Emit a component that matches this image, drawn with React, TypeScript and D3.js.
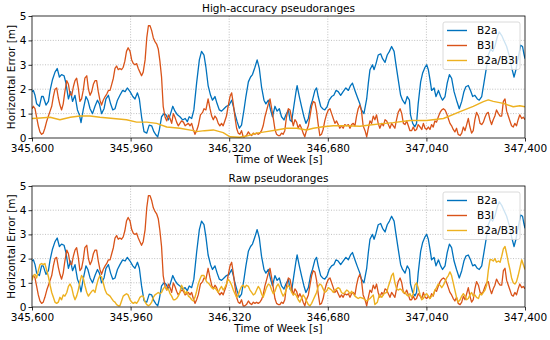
import * as d3 from "d3";

type Pt = [number, number];

/** time of week at the left edge, points below are seconds after it */
const T0 = 345600;
const xTicks = [345600, 345960, 346320, 346680, 347040, 347400];
const yTicks = [0, 1, 2, 3, 4, 5];
const seriesNames = ["B2a", "B3I", "B2a/B3I"];
const colors = ["#0072BD", "#D95319", "#EDB120"];

const b2a: Pt[] = [
  [0, 1.9], [5, 1.95], [11, 1.75], [17, 1.4], [27, 1.3], [35, 1.7], [41, 1.7], [51, 1.35], [60, 1.5], [66, 1.95],
  [75, 2.4], [84, 2.7], [92, 2.85], [100, 2.5], [108, 2.6], [117, 2.55], [124, 2.25], [133, 1.6], [141, 1.9], [148, 1.5],
  [157, 1.75], [166, 1.15], [173, 0.95], [179, 0.63], [187, 1.15], [197, 1.7], [204, 1.55], [212, 1.2], [221, 1.0], [230, 1.3],
  [239, 1.55], [246, 1.4], [254, 1.0], [263, 1.2], [270, 1.6], [279, 1.75], [287, 1.4], [295, 1.15], [303, 1.2], [312, 1.55],
  [321, 1.75], [331, 1.95], [340, 1.9], [348, 2.05], [358, 1.9], [368, 1.7], [376, 1.6], [385, 1.85], [392, 1.6], [400, 0.87],
  [409, 0.26], [419, 0.2], [428, 0.53], [437, 0.5], [445, 0.26], [453, 0.12], [459, 0.05], [465, 0.33], [473, 0.87], [482, 1.0],
  [489, 0.95], [498, 0.74], [506, 1.0], [514, 1.3], [522, 1.1], [531, 0.95], [540, 0.87], [550, 0.74], [559, 0.8], [567, 0.67],
  [574, 0.87], [583, 0.8], [591, 1.15], [601, 2.25], [611, 3.2], [619, 3.55], [628, 3.4], [635, 2.9], [643, 2.15], [652, 1.75],
  [659, 1.55], [668, 1.7], [676, 1.4], [684, 1.15], [692, 1.1], [701, 1.2], [710, 1.3], [720, 1.35], [729, 1.55], [735, 1.3],
  [741, 1.0], [749, 0.67], [757, 0.4], [765, 0.53], [774, 1.15], [781, 1.7], [790, 2.3], [798, 2.5], [805, 2.6], [814, 2.9],
  [822, 3.2], [830, 2.85], [838, 2.1], [847, 1.55], [854, 1.4], [863, 1.55], [871, 1.15], [878, 0.87], [887, 1.3], [895, 1.1],
  [903, 1.2], [911, 0.87], [920, 0.74], [927, 0.95], [936, 1.15], [942, 0.74], [948, 0.67], [956, 1.3], [964, 1.9], [968, 2.15],
  [976, 1.7], [984, 1.3], [993, 0.87], [1000, 0.6], [1009, 0.8], [1017, 1.3], [1024, 1.55], [1033, 1.95], [1039, 2.05], [1045, 1.7],
  [1054, 1.3], [1061, 1.2], [1069, 1.15], [1078, 1.3], [1085, 1.55], [1094, 1.7], [1102, 1.75], [1110, 1.95], [1118, 1.9], [1127, 1.75],
  [1136, 1.9], [1146, 2.05], [1155, 1.95], [1163, 2.15], [1170, 2.25], [1179, 1.95], [1187, 1.7], [1197, 1.4], [1203, 1.15], [1212, 1.0],
  [1222, 1.6], [1228, 2.25], [1234, 2.8], [1243, 3.0], [1249, 2.8], [1256, 3.05], [1264, 3.4], [1273, 3.45], [1280, 3.25], [1289, 3.1],
  [1297, 3.4], [1305, 3.55], [1313, 3.75], [1322, 3.55], [1329, 3.0], [1337, 2.4], [1346, 1.75], [1353, 1.55], [1362, 1.4], [1370, 1.7],
  [1378, 1.55], [1382, 0.95], [1390, 0.6], [1398, 0.46], [1404, 0.6], [1410, 1.4], [1419, 2.3], [1426, 2.65], [1435, 2.9], [1441, 3.0],
  [1447, 2.8], [1453, 2.4], [1459, 1.95], [1468, 2.05], [1475, 1.7], [1484, 1.95], [1492, 1.7], [1499, 1.55], [1508, 1.7], [1516, 2.25],
  [1524, 2.6], [1532, 2.45], [1541, 1.9], [1550, 1.55], [1560, 1.2], [1569, 1.5], [1577, 1.9], [1584, 2.1], [1593, 2.15], [1601, 1.95],
  [1609, 1.7], [1617, 1.75], [1626, 1.6], [1633, 1.55], [1642, 1.7], [1650, 2.25], [1658, 2.8], [1666, 3.4], [1675, 3.65], [1682, 3.55],
  [1690, 3.75], [1699, 4.15], [1706, 4.35], [1715, 4.2], [1723, 4.0], [1733, 3.75], [1743, 3.35], [1751, 2.9], [1760, 2.5], [1767, 2.8],
  [1776, 3.35], [1784, 3.8], [1791, 3.75], [1796, 3.45], [1800, 3.25],
];

const b3i: Pt[] = [
  [0, 1.2], [5, 1.3], [11, 1.2], [17, 0.85], [23, 0.5], [29, 0.25], [35, 0.15], [41, 0.2], [47, 0.4], [54, 0.7],
  [60, 0.9], [66, 1.1], [72, 1.3], [78, 1.7], [84, 2.0], [90, 2.05], [96, 1.65], [102, 1.35], [108, 1.15], [114, 1.4],
  [120, 1.9], [127, 2.35], [133, 2.2], [139, 1.8], [145, 1.75], [151, 2.1], [157, 2.35], [163, 2.45], [169, 2.05], [175, 1.5],
  [181, 1.6], [187, 1.95], [193, 2.45], [200, 2.55], [206, 2.0], [212, 1.75], [218, 1.9], [224, 2.2], [230, 2.35], [236, 2.35],
  [242, 1.9], [248, 1.55], [254, 1.35], [260, 1.55], [267, 1.7], [273, 1.8], [279, 1.95], [285, 1.95], [291, 2.2], [297, 2.45],
  [303, 2.85], [309, 2.95], [315, 2.8], [321, 2.85], [327, 2.8], [333, 2.9], [339, 3.15], [345, 3.55], [351, 3.7], [358, 3.55],
  [364, 3.2], [370, 3.05], [376, 3.0], [382, 3.05], [388, 2.85], [394, 2.7], [400, 2.55], [406, 2.7], [413, 3.2], [419, 4.1],
  [425, 4.6], [431, 4.6], [437, 4.4], [443, 4.1], [449, 3.95], [455, 3.85], [461, 3.65], [467, 3.15], [473, 2.5], [479, 1.3],
  [486, 0.85], [492, 0.7], [498, 0.95], [504, 0.8], [510, 0.6], [516, 1.0], [522, 0.85], [528, 0.65], [534, 0.5], [540, 0.6],
  [546, 0.7], [553, 0.65], [559, 0.5], [565, 0.55], [571, 0.6], [577, 0.5], [583, 0.6], [589, 0.35], [595, 0.15], [601, 0.3],
  [607, 0.5], [615, 0.95], [623, 1.05], [628, 1.2], [635, 1.15], [643, 1.6], [650, 1.2], [656, 0.9], [662, 0.75], [668, 0.9],
  [674, 0.8], [680, 0.6], [686, 0.5], [692, 0.6], [698, 0.5], [704, 0.7], [710, 0.9], [716, 1.3], [723, 1.7], [729, 1.85],
  [735, 1.4], [741, 0.85], [747, 0.4], [753, 0.2], [759, 0.15], [765, 0.3], [771, 0.05], [777, 0.05], [783, 0.1], [790, 0.25],
  [796, 0.15], [802, 0.1], [808, 0.2], [814, 0.15], [820, 0.2], [826, 0.15], [832, 0.2], [838, 0.3], [844, 0.5], [850, 0.85],
  [856, 1.1], [863, 1.4], [869, 1.6], [875, 1.2], [881, 0.8], [887, 0.35], [893, 0.15], [899, 0.1], [905, 0.1], [911, 0.2],
  [917, 0.15], [923, 0.3], [929, 0.85], [936, 1.2], [942, 1.15], [948, 0.8], [954, 0.5], [960, 0.75], [966, 0.65], [972, 0.4],
  [978, 0.55], [984, 0.4], [990, 0.2], [996, 0.05], [1002, 0.3], [1009, 0.5], [1015, 0.9], [1021, 1.3], [1027, 1.5], [1033, 1.45],
  [1039, 1.1], [1045, 0.55], [1051, 0.1], [1057, 0.15], [1063, 0.35], [1069, 0.7], [1075, 0.95], [1082, 1.15], [1088, 1.2], [1094, 1.0],
  [1100, 0.8], [1106, 0.6], [1112, 0.7], [1118, 0.55], [1124, 0.4], [1130, 0.5], [1136, 0.4], [1142, 0.55], [1149, 0.5], [1155, 0.55],
  [1161, 0.4], [1167, 0.55], [1173, 0.6], [1179, 0.5], [1185, 0.9], [1191, 1.2], [1197, 1.35], [1203, 1.1], [1209, 0.5], [1216, 0.3],
  [1222, 0.05], [1228, 0.4], [1234, 0.7], [1240, 0.6], [1246, 0.9], [1252, 0.75], [1258, 0.95], [1264, 0.6], [1270, 0.4], [1277, 0.6],
  [1283, 0.5], [1289, 0.75], [1295, 0.7], [1301, 0.55], [1307, 0.4], [1313, 0.6], [1319, 0.5], [1325, 0.4], [1331, 0.75], [1337, 1.05],
  [1344, 1.2], [1350, 1.0], [1356, 0.6], [1362, 0.55], [1368, 0.7], [1374, 0.5], [1380, 0.3], [1386, 0.3], [1392, 0.45], [1398, 0.3],
  [1404, 0.35], [1410, 0.55], [1417, 0.45], [1423, 0.35], [1429, 0.6], [1435, 0.4], [1441, 0.35], [1447, 0.45], [1453, 0.35], [1459, 0.55],
  [1465, 0.45], [1471, 0.7], [1477, 0.65], [1483, 0.85], [1490, 1.05], [1496, 1.15], [1502, 1.2], [1508, 1.15], [1514, 1.0], [1520, 0.8],
  [1526, 0.6], [1532, 0.5], [1538, 0.35], [1544, 0.25], [1550, 0.4], [1556, 0.15], [1563, 0.1], [1569, 0.2], [1575, 0.45], [1581, 0.3],
  [1587, 0.55], [1593, 0.8], [1599, 0.45], [1605, 0.2], [1611, 0.3], [1617, 0.75], [1623, 1.05], [1630, 0.9], [1636, 0.6], [1642, 0.55],
  [1648, 0.65], [1654, 0.85], [1660, 1.0], [1666, 1.05], [1672, 0.75], [1678, 0.55], [1684, 0.75], [1690, 0.9], [1696, 1.15], [1703, 1.0],
  [1709, 0.9], [1715, 0.9], [1721, 1.5], [1727, 1.6], [1733, 1.1], [1739, 0.9], [1745, 0.7], [1751, 0.5], [1757, 0.45], [1763, 0.6],
  [1769, 0.5], [1775, 0.75], [1781, 0.95], [1788, 0.8], [1794, 0.85], [1800, 0.75],
];

// combined solution, high-accuracy pseudoranges
const comboHA: Pt[] = [
  [0, 0.8], [30, 0.82], [66, 0.85], [102, 0.75], [140, 0.85], [175, 0.9], [212, 0.9], [248, 0.85], [297, 0.8], [345, 0.75],
  [382, 0.65], [419, 0.65], [455, 0.6], [492, 0.45], [540, 0.4], [589, 0.3], [601, 0.26], [630, 0.3], [662, 0.33], [698, 0.22],
  [723, 0.05], [759, 0.03], [783, 0.08], [820, 0.2], [856, 0.26], [893, 0.33], [929, 0.4], [966, 0.4], [1002, 0.33], [1027, 0.4],
  [1063, 0.46], [1100, 0.5], [1149, 0.5], [1197, 0.48], [1234, 0.53], [1270, 0.58], [1319, 0.63], [1380, 0.72], [1441, 0.72], [1502, 0.8],
  [1563, 1.08], [1611, 1.3], [1648, 1.49], [1666, 1.56], [1684, 1.5], [1721, 1.42], [1757, 1.28], [1781, 1.32], [1800, 1.28],
];

// combined solution, raw pseudoranges
const comboRaw: Pt[] = [
  [0, 1.1], [5, 1.3], [11, 1.35], [17, 1.2], [23, 1.5], [29, 1.75], [35, 1.8], [41, 1.75], [47, 1.8], [54, 1.5],
  [60, 1.25], [66, 0.9], [72, 0.6], [78, 0.4], [84, 0.2], [90, 0.15], [96, 0.2], [102, 0.4], [108, 0.3], [114, 0.5],
  [120, 0.45], [127, 0.6], [133, 0.85], [139, 0.95], [145, 0.8], [151, 0.5], [157, 0.3], [163, 0.45], [169, 0.7], [175, 1.05],
  [181, 1.3], [187, 1.2], [193, 0.9], [200, 0.6], [206, 0.45], [212, 0.55], [218, 0.65], [224, 0.7], [230, 0.6], [236, 0.9],
  [242, 1.15], [248, 1.3], [254, 1.25], [260, 1.0], [267, 0.7], [273, 0.55], [279, 0.5], [285, 0.45], [291, 0.35], [297, 0.25],
  [303, 0.2], [309, 0.1], [315, 0.05], [321, 0.05], [327, 0.25], [333, 0.45], [339, 0.5], [345, 0.55], [351, 0.5], [358, 0.3],
  [364, 0.2], [370, 0.15], [376, 0.2], [382, 0.15], [388, 0.25], [394, 0.4], [400, 0.45], [406, 0.45], [413, 0.2], [419, 0.1],
  [425, 0.05], [431, 0.1], [437, 0.2], [443, 0.4], [449, 0.5], [455, 0.55], [461, 0.6], [467, 0.55], [473, 0.6], [479, 0.75],
  [486, 0.85], [492, 0.7], [498, 0.75], [504, 0.55], [510, 0.45], [516, 0.3], [522, 0.3], [528, 0.35], [534, 0.45], [540, 0.6],
  [546, 0.9], [553, 0.75], [559, 0.55], [565, 0.65], [571, 0.45], [577, 0.4], [583, 0.3], [589, 0.25], [595, 0.4], [601, 0.65],
  [607, 0.95], [613, 1.15], [619, 1.3], [628, 1.3], [637, 1.05], [647, 0.95], [656, 0.8], [662, 0.75], [668, 0.8], [674, 0.7],
  [680, 0.6], [686, 0.75], [692, 0.85], [698, 0.7], [704, 0.8], [710, 0.95], [716, 1.15], [723, 1.05], [729, 0.9], [735, 0.7],
  [741, 0.55], [747, 0.4], [753, 0.5], [759, 0.7], [765, 0.85], [771, 0.9], [777, 0.8], [783, 0.9], [790, 0.85], [796, 0.7],
  [802, 0.6], [808, 0.5], [814, 0.55], [820, 0.7], [826, 0.85], [832, 0.75], [838, 0.55], [844, 0.4], [850, 0.6], [856, 0.8],
  [863, 0.95], [869, 0.9], [875, 0.7], [881, 0.55], [887, 0.65], [893, 0.85], [899, 0.95], [905, 0.8], [911, 0.6], [917, 0.45],
  [923, 0.55], [929, 0.75], [936, 0.9], [942, 0.8], [948, 0.6], [954, 0.5], [960, 0.55], [966, 0.45], [972, 0.3], [978, 0.2],
  [984, 0.35], [990, 0.5], [996, 0.4], [1002, 0.25], [1009, 0.1], [1015, 0.05], [1021, 0.15], [1027, 0.3], [1033, 0.45], [1039, 0.6],
  [1045, 0.85], [1051, 0.95], [1057, 0.9], [1063, 0.75], [1069, 0.6], [1075, 0.65], [1082, 0.8], [1088, 0.75], [1094, 0.7], [1100, 0.6],
  [1106, 0.7], [1112, 0.75], [1118, 0.8], [1124, 0.75], [1130, 0.6], [1136, 0.55], [1142, 0.6], [1149, 0.7], [1155, 0.65], [1161, 0.55],
  [1167, 0.65], [1173, 0.55], [1179, 0.45], [1185, 0.4], [1191, 0.35], [1198, 0.4], [1210, 0.35], [1222, 0.25], [1234, 0.35], [1246, 0.5],
  [1252, 0.1], [1261, 0.2], [1268, 0.5], [1277, 0.4], [1285, 0.55], [1295, 0.6], [1301, 0.85], [1307, 1.05], [1313, 1.3], [1319, 1.4],
  [1325, 1.0], [1331, 0.75], [1337, 0.7], [1344, 0.75], [1350, 0.7], [1356, 0.6], [1362, 0.6], [1368, 0.5], [1374, 0.45], [1380, 0.55],
  [1386, 0.4], [1392, 0.55], [1398, 0.9], [1404, 1.0], [1410, 0.8], [1417, 0.5], [1423, 0.3], [1429, 0.35], [1435, 0.5], [1441, 0.55],
  [1447, 0.45], [1453, 0.35], [1459, 0.45], [1465, 0.5], [1471, 0.7], [1477, 0.8], [1483, 0.95], [1490, 0.9], [1496, 0.8], [1502, 0.9],
  [1508, 1.05], [1514, 1.2], [1520, 1.3], [1526, 1.45], [1532, 1.3], [1538, 1.0], [1544, 0.7], [1550, 0.4], [1556, 0.2], [1563, 0.3],
  [1569, 0.45], [1575, 0.55], [1581, 0.45], [1587, 0.3], [1593, 0.35], [1599, 0.5], [1605, 0.6], [1611, 0.45], [1617, 0.5], [1623, 0.4],
  [1630, 0.35], [1636, 0.55], [1642, 0.5], [1648, 0.6], [1654, 0.7], [1660, 0.9], [1666, 1.5], [1672, 1.95], [1678, 1.95], [1684, 1.9],
  [1690, 2.0], [1696, 1.85], [1703, 1.9], [1709, 1.85], [1715, 2.1], [1721, 2.4], [1727, 2.5], [1733, 2.2], [1739, 1.85], [1745, 1.55],
  [1751, 1.2], [1757, 1.0], [1763, 0.95], [1769, 1.05], [1775, 1.3], [1781, 1.6], [1788, 1.95], [1794, 1.75], [1800, 1.55],
];

/** svg dimensions */
const width = 550;
const height = 340;
const left = 32;
const right = 525;
const font = "DejaVu Sans, sans-serif";

const xScale = d3.scaleLinear().domain([T0, T0 + 1800]).range([left, right]);

type PanelProps = {
  title: string;
  top: number;
  bottom: number;
  series: Pt[][];
  id: string;
};

const Panel = ({ title, top, bottom, series, id }: PanelProps) => {
  const yScale = d3.scaleLinear().domain([0, 5]).range([bottom, top]);
  const line = d3
    .line<Pt>()
    .x((d) => xScale(T0 + d[0]))
    .y((d) => yScale(d[1]));

  const xAxis = d3
    .axisBottom(xScale)
    .tickValues(xTicks)
    .tickFormat((d) => d3.format(",")(d as number))
    .tickSize(3.5)
    .tickPadding(3);
  const yAxis = d3.axisLeft(yScale).tickValues(yTicks).tickFormat(d3.format("d")).tickSize(3.5).tickPadding(2);

  const styleAxis = (g: d3.Selection<SVGGElement, unknown, null, undefined>) => {
    g.select(".domain").remove();
    g.selectAll("text").attr("font-size", 10.5).attr("font-family", font).attr("fill", "#000");
    g.selectAll("line").attr("stroke", "#000").attr("stroke-width", 0.8);
  };

  const legendX = 443;
  const legendY = top + 6;

  return (
    <g>
      <text x={(left + right) / 2} y={top - 4} textAnchor="middle" fontSize={10.5} fontFamily={font}>
        {title}
      </text>
      {/* grid */}
      {xTicks.slice(1, -1).map((t) => (
        <line key={`gx${t}`} x1={xScale(t)} x2={xScale(t)} y1={top} y2={bottom} stroke="#b0b0b0" strokeWidth={0.8} strokeDasharray="1,1.6" />
      ))}
      {yTicks.slice(1, -1).map((v) => (
        <line key={`gy${v}`} x1={left} x2={right} y1={yScale(v)} y2={yScale(v)} stroke="#b0b0b0" strokeWidth={0.8} strokeDasharray="1,1.6" />
      ))}
      <clipPath id={id}>
        <rect x={left} y={top} width={right - left} height={bottom - top} />
      </clipPath>
      <g clipPath={`url(#${id})`}>
        {series.map((s, i) => (
          <path key={i} d={line(s) ?? ""} fill="none" stroke={colors[i]} strokeWidth={i === 2 ? 1.4 : 1.3} strokeLinejoin="round" />
        ))}
      </g>
      <rect x={left} y={top} width={right - left} height={bottom - top} fill="none" stroke="#000" strokeWidth={0.8} />
      <g
        ref={(el) => {
          if (!el) return;
          const sel = d3.select(el);
          xAxis(sel);
          styleAxis(sel);
        }}
        transform={`translate(0, ${bottom})`}
      />
      <g
        ref={(el) => {
          if (!el) return;
          const sel = d3.select(el);
          yAxis(sel);
          styleAxis(sel);
        }}
        transform={`translate(${left}, 0)`}
      />
      <text
        x={0}
        y={0}
        transform={`translate(12, ${(top + bottom) / 2}) rotate(-90)`}
        textAnchor="middle"
        dominantBaseline="middle"
        fontSize={10.5}
        fontFamily={font}
      >
        Horizontal Error [m]
      </text>
      <text x={(left + right) / 2} y={bottom + 25} textAnchor="middle" fontSize={10.5} fontFamily={font}>
        Time of Week [s]
      </text>
      {/* legend */}
      <rect x={legendX} y={legendY} width={77} height={47.5} rx={2} fill="#fff" fillOpacity={0.8} stroke="#d0d0d0" strokeWidth={0.8} />
      {seriesNames.map((name, i) => (
        <g key={name} transform={`translate(${legendX + 4}, ${legendY + 8.5 + i * 15})`}>
          <line x1={0} x2={20} y1={0} y2={0} stroke={colors[i]} strokeWidth={1.4} />
          <text x={30} y={0} dominantBaseline="middle" fontSize={10.5} fontFamily={font}>
            {name}
          </text>
        </g>
      ))}
    </g>
  );
};

const App = () => (
  <svg width={width} height={height} style={{ position: "absolute", left: 0, top: 0 }}>
    <rect width={width} height={height} fill="#fff" />
    <Panel id="clipTop" title="High-accuracy pseudoranges" top={16} bottom={138} series={[b2a, b3i, comboHA]} />
    <Panel id="clipBottom" title="Raw pseudoranges" top={186} bottom={307} series={[b2a, b3i, comboRaw]} />
  </svg>
);

export default App;
